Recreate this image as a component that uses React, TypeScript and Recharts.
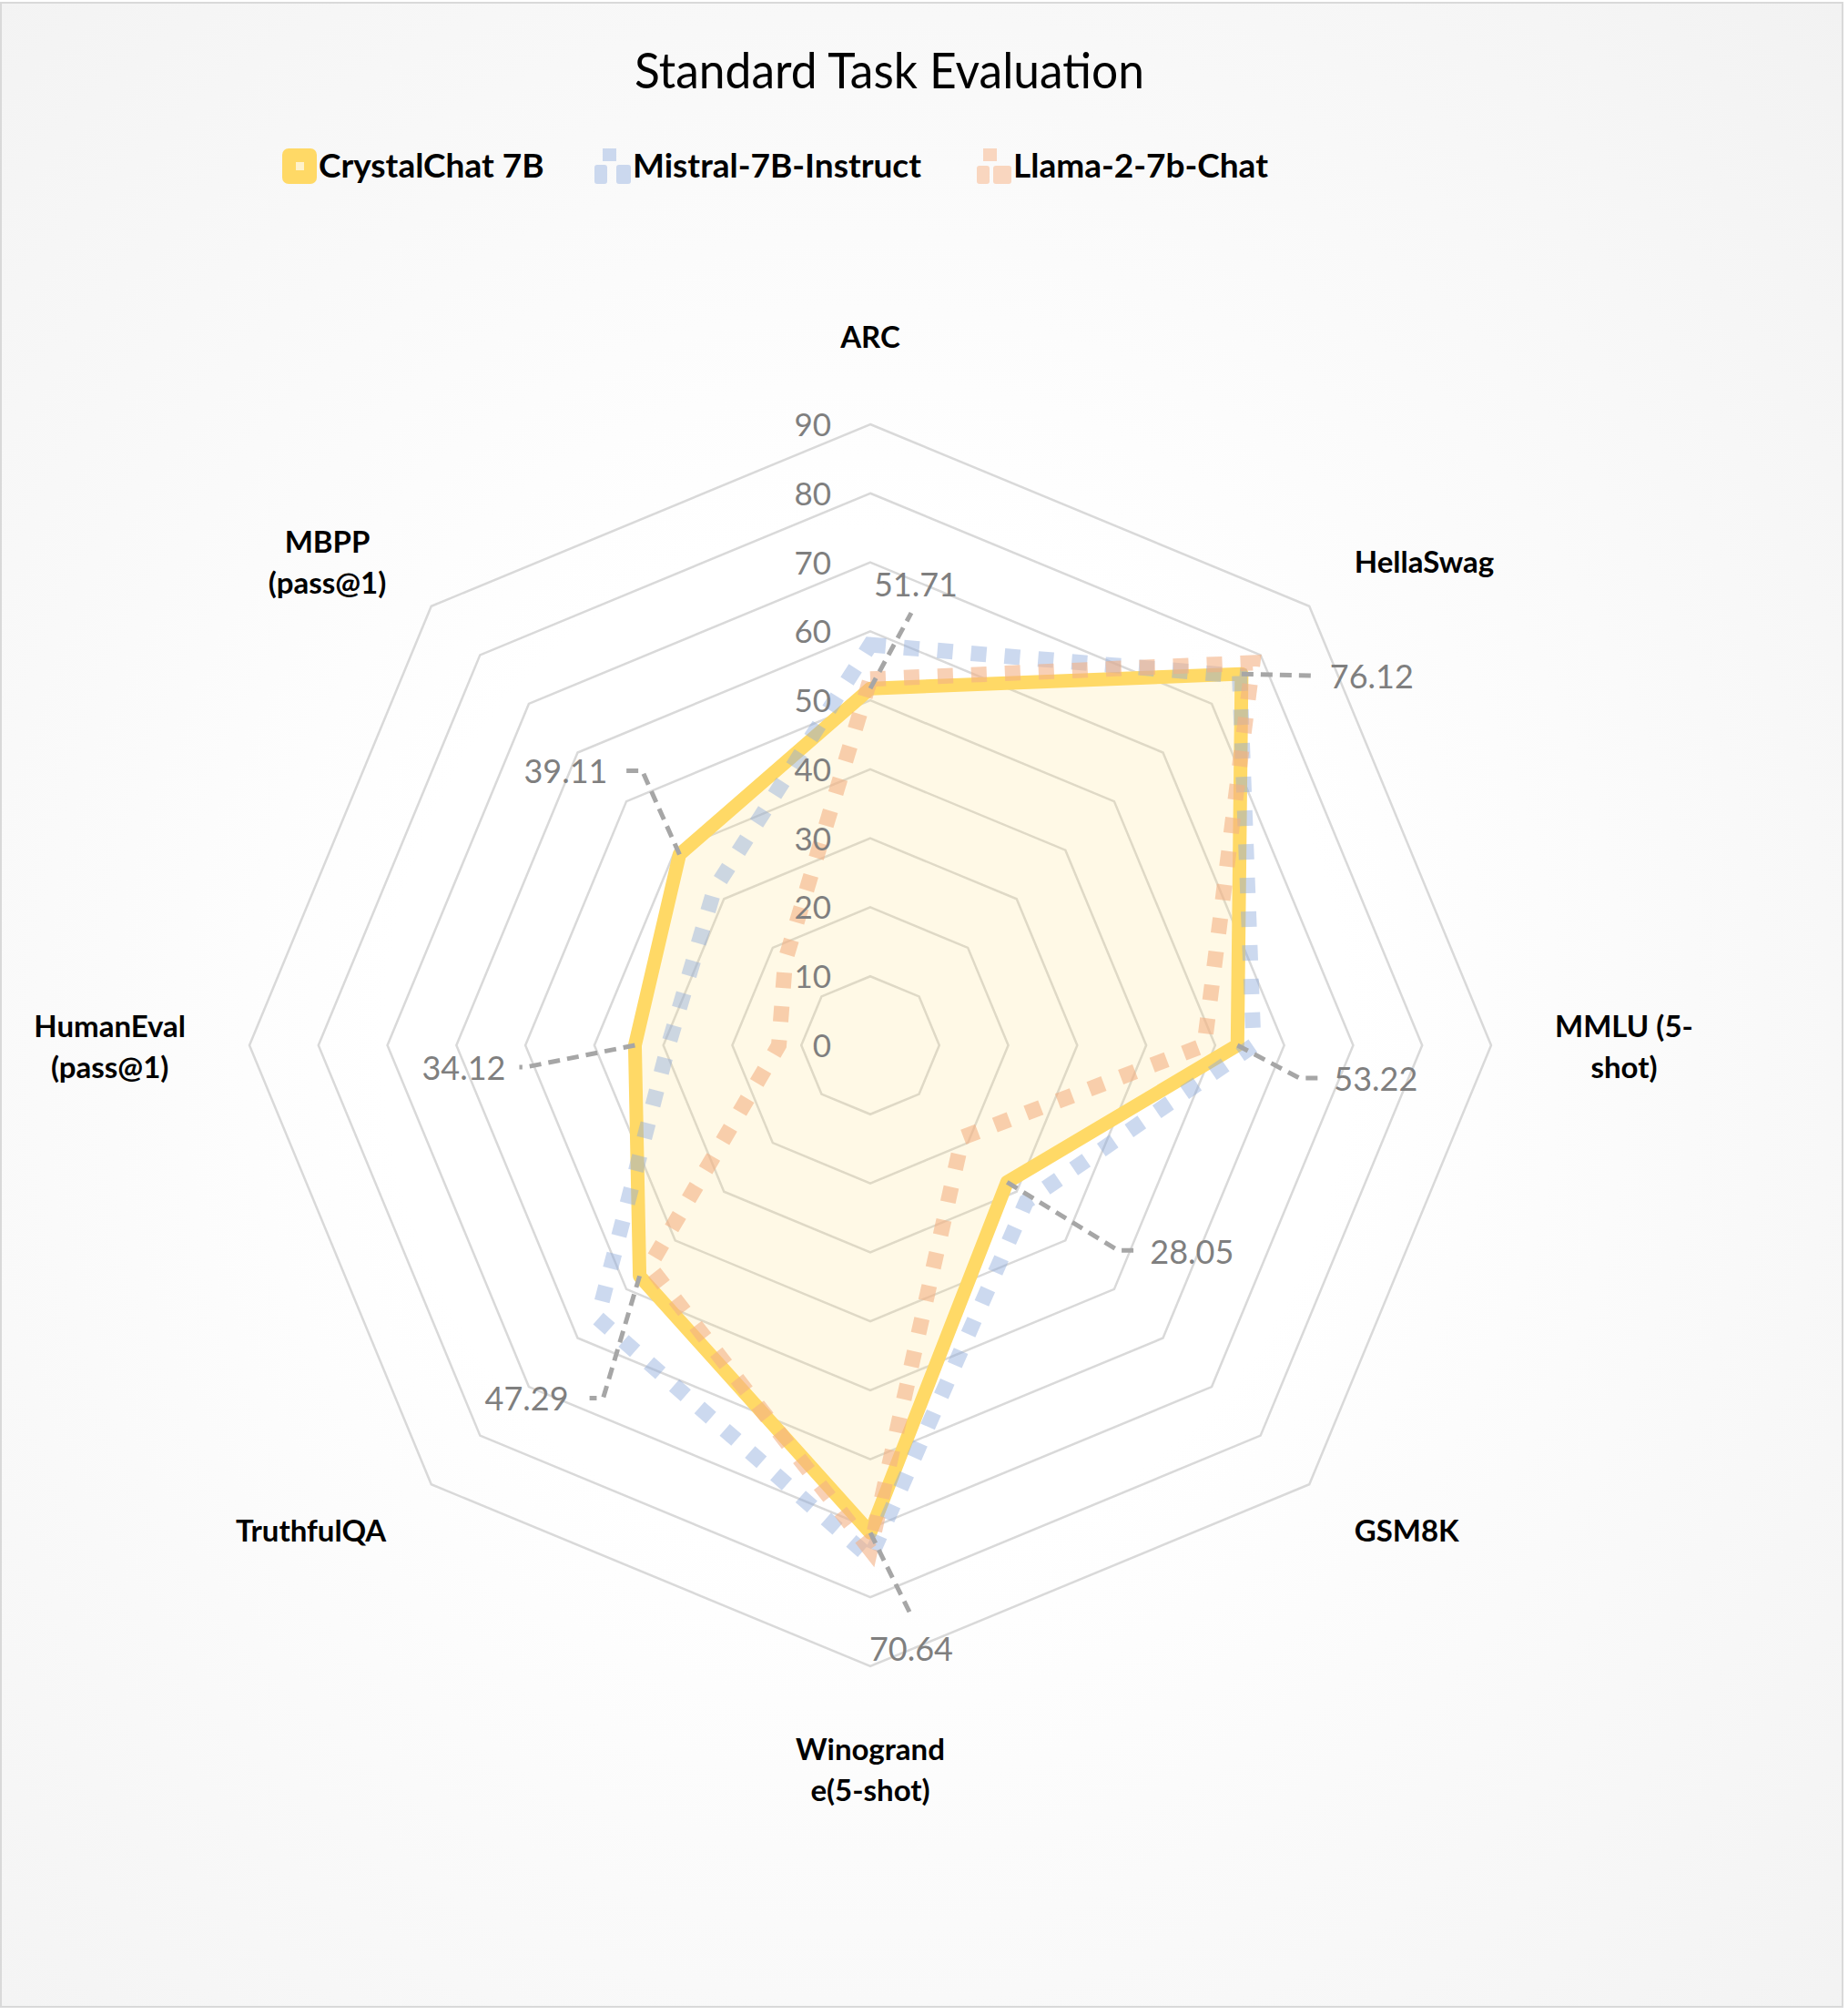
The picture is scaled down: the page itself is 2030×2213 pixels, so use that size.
import React from "react";
import { RadarChart, Radar, PolarGrid, PolarAngleAxis, PolarRadiusAxis } from "recharts";

// categories, in clockwise order from the top
const SUBJECTS = [
  "ARC",
  "HellaSwag",
  "MMLU (5-shot)",
  "GSM8K",
  "Winogrande(5-shot)",
  "TruthfulQA",
  "HumanEval (pass@1)",
  "MBPP (pass@1)",
];
// how the category labels wrap in the picture
const SUBJECT_LINES = [
  ["ARC"],
  ["HellaSwag"],
  ["MMLU (5-", "shot)"],
  ["GSM8K"],
  ["Winogrand", "e(5-shot)"],
  ["TruthfulQA"],
  ["HumanEval", "(pass@1)"],
  ["MBPP", "(pass@1)"],
];

const CRYSTAL = [51.71, 76.12, 53.22, 28.05, 70.64, 47.29, 34.12, 39.11];
const MISTRAL = [58.05, 75.71, 55.56, 32.0, 74.27, 55.9, 29.27, 31.96];
const LLAMA = [53.07, 78.39, 48.42, 18.88, 73.09, 45.3, 13.26, 17.43];

const RADIUS_TICKS = [0, 10, 20, 30, 40, 50, 60, 70, 80, 90];
const SERIES_NAMES = ["CrystalChat 7B", "Mistral-7B-Instruct", "Llama-2-7b-Chat"];

const data = SUBJECTS.map((subject, i) => ({
  subject,
  crystal: CRYSTAL[i],
  mistral: MISTRAL[i],
  llama: LLAMA[i],
}));

const W = 2030;
const H = 2213;
const CX = 956;
const CY = 1148;
const R = 682;
const FONT = "Lato, 'Open Sans', sans-serif";
const GREY = "#7f7f7f";
const CAT_FONT_SIZE = 33;

// manual label placement (Excel-style callouts), offsets from the data point
const LABEL_LAYOUT: { dx: number; dy: number; anchor: string; leader: number[][] }[] = [
  { dx: 50, dy: -115, anchor: "middle", leader: [[0, 0], [45, -83]] },
  { dx: 97, dy: 2, anchor: "start", leader: [[0, 0], [80, 2]] },
  { dx: 106, dy: 36, anchor: "start", leader: [[0, 0], [68, 36], [94, 36]] },
  { dx: 157, dy: 76, anchor: "start", leader: [[0, 0], [122, 75], [143, 75]] },
  { dx: 45, dy: 127, anchor: "middle", leader: [[0, 0], [45, 91]] },
  { dx: -78, dy: 134, anchor: "end", leader: [[0, 0], [-40, 134], [-55, 134]] },
  { dx: -142, dy: 24, anchor: "end", leader: [[0, 0], [-120, 24], [-127, 24]] },
  { dx: -79, dy: -92, anchor: "end", leader: [[0, 0], [-41, -92], [-60, -92]] },
];

let measureCtx: CanvasRenderingContext2D | null = null;
const textWidth = (s: string) => {
  if (!measureCtx) measureCtx = document.createElement("canvas").getContext("2d");
  if (!measureCtx) return s.length * 17;
  measureCtx.font = `700 ${CAT_FONT_SIZE}px Lato`;
  return measureCtx.measureText(s).width;
};

const RadiusTick = (props: any) => {
  const { x, y, payload } = props;
  return (
    <text
      x={x - 43}
      y={y - 1}
      textAnchor="end"
      dominantBaseline="central"
      fontFamily={FONT}
      fontSize={35}
      fill={GREY}
    >
      {payload.value}
    </text>
  );
};

const AngleTick = (props: any) => {
  const index: number = props.index ?? 0;
  const lines = SUBJECT_LINES[index] ?? [String(props.payload?.value)];
  const a = ((90 - index * 45) * Math.PI) / 180;
  const cos = Math.cos(a);
  const sin = Math.sin(a);
  const r0 = 752;
  const px = CX + r0 * cos;
  const py = CY - r0 * sin;
  const lh = 45;
  const common = { fontFamily: FONT, fontSize: CAT_FONT_SIZE, fontWeight: 700, fill: "#000" };

  if (Math.abs(cos) < 0.01) {
    if (sin > 0) {
      const last = CY - 766;
      return (
        <text x={CX} textAnchor="middle" {...common}>
          {lines.map((l, i) => (
            <tspan key={i} x={CX} y={last - (lines.length - 1 - i) * lh}>
              {l}
            </tspan>
          ))}
        </text>
      );
    }
    const first = CY + 785;
    return (
      <text x={CX} textAnchor="middle" {...common}>
        {lines.map((l, i) => (
          <tspan key={i} x={CX} y={first + i * lh}>
            {l}
          </tspan>
        ))}
      </text>
    );
  }
  // block of centred lines, its inner edge on the label circle
  const maxW = Math.max(...lines.map(textWidth));
  const mx = px + (cos > 0 ? 1 : -1) * (maxW / 2);
  return (
    <text x={mx} textAnchor="middle" dominantBaseline="central" {...common}>
      {lines.map((l, i) => (
        <tspan key={i} x={mx} y={py + (i - (lines.length - 1) / 2) * lh} dominantBaseline="central">
          {l}
        </tspan>
      ))}
    </text>
  );
};

const renderValueLabel = (props: any) => {
  const index: number = props.index ?? 0;
  const x: number = props.x ?? props.viewBox?.x;
  const y: number = props.y ?? props.viewBox?.y;
  const lay = LABEL_LAYOUT[index];
  if (!lay || x == null || y == null) return null;
  const pts = lay.leader.map(([dx, dy]) => `${x + dx},${y + dy}`).join(" ");
  return (
    <g key={`lbl-${index}`}>
      <polyline points={pts} fill="none" stroke="#a6a6a6" strokeWidth={5} strokeDasharray="13 8" />
      <text
        x={x + lay.dx}
        y={y + lay.dy}
        textAnchor={lay.anchor as any}
        dominantBaseline="central"
        fontFamily={FONT}
        fontSize={36}
        fill={GREY}
      >
        {Number(props.value).toFixed(2)}
      </text>
    </g>
  );
};

const Legend = () => (
  <svg width={W} height={240} style={{ position: "absolute", left: 0, top: 0, pointerEvents: "none" }}>
    <text
      x={977}
      y={97}
      textAnchor="middle"
      fontFamily={FONT}
      fontSize={55}
      fill="#000"
      textLength={560}
      lengthAdjust="spacingAndGlyphs"
    >
      Standard Task Evaluation
    </text>
    {/* CrystalChat */}
    <rect x={310} y={163} width={38} height={39} rx={7} fill="#FFD966" />
    <rect x={325} y={178} width={9} height={9} fill="#FFF2CC" />
    <text x={350} y={195} fontFamily={FONT} fontSize={37} fontWeight={700} fill="#000">
      {SERIES_NAMES[0]}
    </text>
    {/* Mistral */}
    <g fill="#CBD8EE">
      <rect x={662} y={163} width={15} height={14} />
      <rect x={653} y={181} width={14} height={21} rx={3} />
      <rect x={677} y={181} width={16} height={21} rx={3} />
    </g>
    <text x={695} y={195} fontFamily={FONT} fontSize={37} fontWeight={700} fill="#000">
      {SERIES_NAMES[1]}
    </text>
    {/* Llama */}
    <g fill="#F9D6BF">
      <rect x={1080} y={163} width={15} height={14} />
      <rect x={1073} y={182} width={14} height={20} rx={3} />
      <rect x={1091} y={182} width={20} height={20} rx={3} />
    </g>
    <text x={1113} y={195} fontFamily={FONT} fontSize={37} fontWeight={700} fill="#000">
      {SERIES_NAMES[2]}
    </text>
  </svg>
);

export default function App() {
  return (
    <div style={{ position: "absolute", left: 0, top: 0, width: W, height: H, background: "#fff" }}>
      <div
        style={{
          position: "absolute",
          left: 0,
          top: 2,
          width: 2025,
          height: 2203,
          boxSizing: "border-box",
          border: "2px solid #d9d9d9",
          background: "radial-gradient(ellipse at 47% 52%, #ffffff 0%, #ffffff 35%, #f2f2f2 100%)",
        }}
      />
      <div style={{ position: "absolute", left: 0, top: 0 }}>
        <RadarChart
          width={W}
          height={H}
          data={data}
          cx={CX}
          cy={CY}
          outerRadius={R}
          margin={{ top: 0, right: 0, bottom: 0, left: 0 }}
        >
          <PolarGrid gridType="polygon" radialLines={false} stroke="#d9d9d9" strokeWidth={2.5} />
          <PolarAngleAxis dataKey="subject" tick={<AngleTick />} tickLine={false} axisLine={false} />
          <PolarRadiusAxis
            angle={90}
            domain={[0, 90]}
            ticks={RADIUS_TICKS as any}
            tickCount={10}
            tick={<RadiusTick />}
            axisLine={false}
            tickLine={false}
          />
          <Radar
            name={SERIES_NAMES[0]}
            dataKey="crystal"
            stroke="#FFD966"
            strokeWidth={15}
            strokeLinejoin="round"
            fill="#FFD966"
            fillOpacity={0.16}
            isAnimationActive={false}
          />
          <Radar
            name={SERIES_NAMES[1]}
            dataKey="mistral"
            stroke="#8FAADC"
            strokeOpacity={0.45}
            strokeWidth={17}
            strokeDasharray="17 20"
            fill="none"
            fillOpacity={0}
            isAnimationActive={false}
          />
          <Radar
            name={SERIES_NAMES[2]}
            dataKey="llama"
            stroke="#F4B183"
            strokeOpacity={0.6}
            strokeWidth={17}
            strokeDasharray="17 20"
            fill="none"
            fillOpacity={0}
            isAnimationActive={false}
          />
          {/* same CrystalChat values again, only to carry its callout labels on top */}
          <Radar
            dataKey="crystal"
            stroke="none"
            fill="none"
            fillOpacity={0}
            label={renderValueLabel}
            isAnimationActive={false}
            legendType="none"
          />
        </RadarChart>
      </div>
      <Legend />
    </div>
  );
}
